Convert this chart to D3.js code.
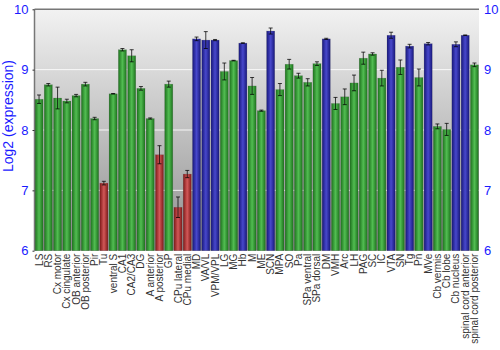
<!DOCTYPE html>
<html><head><meta charset="utf-8">
<script src="https://cdn.jsdelivr.net/npm/d3@7"></script>
<style>body{margin:0;background:#fff}svg{display:block}</style>
</head><body>
<svg id="c" width="500" height="350"></svg>
<script>
const categories = ["LS","RS","Cx motor","Cx cingulate","OB anterior","OB posterior","Pir","Tu","ventral S","CA1","CA2/CA3","DG","A anterior","A posterior","GP","CPu lateral","CPu medial","MD","VA/VL","VPM/VPL","LG","MG","Hb","M","ME","SCN","MPA","SO","Pa","SPa ventral","SPa dorsal","DM","VMH","Arc","LH","PAG","SC","IC","VTA","SN","Tg","Pn","MVe","Cb vermis","Cb lobe","Cb nucleus","spinal cord anterior","spinal cord posterior"];
const values = [8.51,8.75,8.53,8.48,8.57,8.76,8.19,7.12,8.60,9.33,9.23,8.69,8.19,7.59,8.76,6.72,7.27,9.51,9.49,9.49,8.97,9.15,9.44,8.73,8.32,9.64,8.67,9.09,8.90,8.79,9.10,9.51,8.44,8.55,8.78,9.19,9.26,8.86,9.57,9.04,9.39,8.87,9.43,8.06,8.01,9.42,9.57,9.08];
const errors = [0.07,0.02,0.18,0.03,0.02,0.03,0.02,0.03,0.005,0.02,0.10,0.03,0.01,0.15,0.05,0.17,0.06,0.03,0.14,0.01,0.14,0.005,0.005,0.14,0.01,0.05,0.10,0.08,0.04,0.06,0.03,0.01,0.10,0.13,0.13,0.10,0.02,0.13,0.05,0.12,0.03,0.14,0.02,0.04,0.10,0.04,0.005,0.03];
const groups = ["g","g","g","g","g","g","g","r","g","g","g","g","g","r","g","r","r","b","b","b","g","g","b","g","g","b","g","g","g","g","g","b","g","g","g","g","g","g","b","g","b","g","b","g","g","b","b","g"];
const yTicks = [6,7,8,9,10];

const svg = d3.select("#c");
const L = 34.5, R = 479, T = 9.3, B = 250.7;
const x = d3.scaleBand().domain(categories).range([L, R]).paddingInner(0.12).paddingOuter(0.05);
const y = d3.scaleLinear().domain([6, 10]).range([B, T]);

const defs = svg.append("defs");
const bg = defs.append("linearGradient").attr("id","bg").attr("x1",0).attr("y1",0).attr("x2",0).attr("y2",1);
bg.append("stop").attr("offset","0%").attr("stop-color","#f2f2f2");
bg.append("stop").attr("offset","100%").attr("stop-color","#8f8f8f");
const cols = {g:["#1c721c","#52bd52"], r:["#7e1818","#d25858"], b:["#17177a","#4848cc"]};
Object.entries(cols).forEach(([k,[e,c]]) => {
  const g = defs.append("linearGradient").attr("id","bar"+k).attr("x1",0).attr("y1",0).attr("x2",1).attr("y2",0);
  g.append("stop").attr("offset","0%").attr("stop-color",e);
  g.append("stop").attr("offset","50%").attr("stop-color",c);
  g.append("stop").attr("offset","100%").attr("stop-color",e);
});

svg.append("rect").attr("x",L).attr("y",T).attr("width",R-L).attr("height",B-T).attr("fill","url(#bg)");

svg.append("g").selectAll("line").data(yTicks.filter(d=>d>6&&d<10)).join("line")
  .attr("x1",L).attr("x2",R).attr("y1",d=>y(d)).attr("y2",d=>y(d))
  .attr("stroke","#fff").attr("stroke-opacity",0.85).attr("stroke-width",1);

svg.append("g").selectAll("rect").data(categories).join("rect")
  .attr("x",d=>x(d)).attr("width",x.bandwidth())
  .attr("y",(d,i)=>y(values[i])).attr("height",(d,i)=>y(6)-y(values[i]))
  .attr("fill",(d,i)=>"url(#bar"+groups[i]+")")
  .attr("stroke","#555").attr("stroke-opacity",0.35).attr("stroke-width",0.5);

const eb = svg.append("g").attr("stroke","#000").attr("stroke-opacity",0.75).attr("stroke-width",1);
categories.forEach((c,i)=>{
  const cx = x(c)+x.bandwidth()/2, y1 = y(values[i]+errors[i]), y2 = y(values[i]-errors[i]);
  eb.append("line").attr("x1",cx).attr("x2",cx).attr("y1",y1).attr("y2",y2);
  eb.append("line").attr("x1",cx-2).attr("x2",cx+2).attr("y1",y1).attr("y2",y1);
  eb.append("line").attr("x1",cx-2).attr("x2",cx+2).attr("y1",y2).attr("y2",y2);
});

// frame
svg.append("line").attr("x1",L).attr("x2",R).attr("y1",T).attr("y2",T).attr("stroke","#777").attr("stroke-width",1.5);
svg.append("line").attr("x1",L).attr("x2",L).attr("y1",T).attr("y2",B).attr("stroke","#777").attr("stroke-width",1.5);

const left = d3.axisLeft(y).tickValues(yTicks).tickFormat(d3.format("d")).tickSize(2).tickPadding(4);
const gl = svg.append("g").attr("transform",`translate(${L},0)`).call(left);
gl.select(".domain").remove();
gl.selectAll("text").attr("fill","#1a1aff").attr("font-size",13).attr("font-family","Liberation Sans, Arial, sans-serif");
gl.selectAll("line").attr("stroke","#333");

const right = d3.axisRight(y).tickValues(yTicks).tickFormat(d3.format("d")).tickSize(0).tickPadding(5);
const gr = svg.append("g").attr("transform",`translate(${R},0)`).call(right);
gr.select(".domain").remove();
gr.selectAll("text").attr("fill","#1a1aff").attr("font-size",13).attr("font-family","Liberation Sans, Arial, sans-serif");

svg.append("text").attr("transform","translate(13,116) rotate(-90)").attr("text-anchor","middle")
  .attr("fill","#1a1aff").attr("font-size",14).attr("font-family","Liberation Sans, Arial, sans-serif")
  .text("Log2 (expression)");

svg.append("g").selectAll("text").data(categories).join("text")
  .attr("transform",d=>`translate(${x(d)+x.bandwidth()/2},${B+3}) rotate(-90)`)
  .attr("text-anchor","end").attr("dy","0.35em")
  .attr("fill","#333").attr("font-size",10).attr("font-family","Liberation Sans, Arial, sans-serif")
  .text(d=>d);
</script>
</body></html>
